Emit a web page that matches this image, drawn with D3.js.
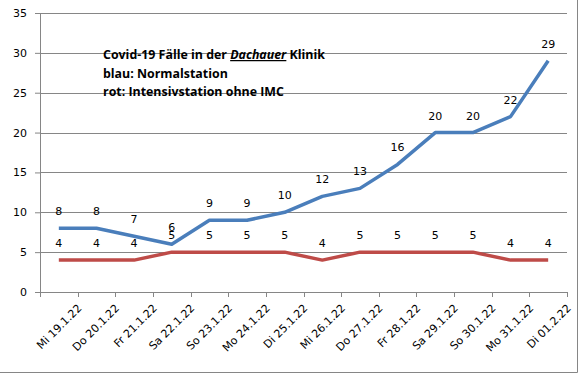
<!DOCTYPE html>
<html>
<head>
<meta charset="utf-8">
<script src="https://cdn.jsdelivr.net/npm/d3@7"></script>
<style>
body { margin: 0; background: #fff; }
svg { display: block; }
</style>
</head>
<body>
<svg width="580" height="375"></svg>
<script>
var days = ["Mi 19.1.22", "Do 20.1.22", "Fr 21.1.22", "Sa 22.1.22", "So 23.1.22", "Mo 24.1.22", "Di 25.1.22",
	"Mi 26.1.22", "Do 27.1.22", "Fr 28.1.22", "Sa 29.1.22", "So 30.1.22", "Mo 31.1.22", "Di 01.2.22"];
var normal = [8, 8, 7, 6, 9, 9, 10, 12, 13, 16, 20, 20, 22, 29]; // blau
var intensiv = [4, 4, 4, 5, 5, 5, 5, 4, 5, 5, 5, 5, 4, 4]; // rot
var yTicks = [0, 5, 10, 15, 20, 25, 30, 35];
var titleLines = ["blau: Normalstation", "rot: Intensivstation ohne IMC"];

var svg = d3.select("svg"),
	width = +svg.attr("width"),
	height = +svg.attr("height");

var plotLeft = 40, plotRight = 567, plotTop = 13, plotBottom = 292; // "top" is taken by window.top
var font = "DejaVu Sans";

var x = d3.scaleBand().domain(days).range([plotLeft, plotRight]);
var y = d3.scaleLinear().domain([0, 35]).range([plotBottom, plotTop]);

// outer frame (only right and bottom edges show)
svg.append("path")
	.attr("d", "M" + (width - 2.5) + ",0V" + (height - 2.5) + "H0")
	.attr("fill", "none")
	.attr("stroke", "#868686");

// gridlines
svg.append("g").selectAll("line")
	.data(yTicks.slice(1))
	.enter().append("line")
	.attr("x1", plotLeft).attr("x2", plotRight)
	.attr("y1", function(d) { return Math.round(y(d)) + 0.5; })
	.attr("y2", function(d) { return Math.round(y(d)) + 0.5; })
	.attr("stroke", "#868686");

// y axis
var yAxis = svg.append("g")
	.attr("transform", "translate(" + plotLeft + ",0)")
	.call(d3.axisLeft(y).tickValues(yTicks).tickSize(5).tickPadding(8));
yAxis.select(".domain").attr("stroke", "#868686");
yAxis.selectAll(".tick line").attr("stroke", "#868686");
yAxis.selectAll(".tick text").attr("font-family", font).attr("font-size", 11).attr("fill", "#000");

// x axis, ticks between categories
var xAxis = svg.append("g")
	.attr("transform", "translate(0," + plotBottom + ")")
	.call(d3.axisBottom(x).tickSize(0).tickPadding(0));
xAxis.select(".domain").attr("stroke", "#868686");
xAxis.selectAll(".tick text")
	.attr("font-family", font).attr("font-size", 11).attr("fill", "#000")
	.attr("text-anchor", "end")
	.attr("transform", "translate(" + (x.bandwidth() / 2 + 2) + ",14) rotate(-45)")
	.attr("dy", "0.35em");

svg.append("g").selectAll("line")
	.data(days.concat([null]))
	.enter().append("line")
	.attr("x1", function(d, i) { return Math.round(plotLeft + i * x.step()) + 0.5; })
	.attr("x2", function(d, i) { return Math.round(plotLeft + i * x.step()) + 0.5; })
	.attr("y1", plotBottom).attr("y2", plotBottom + 5)
	.attr("stroke", "#868686");

// series lines
var line = d3.line()
	.x(function(d, i) { return x(days[i]) + x.bandwidth() / 2; })
	.y(function(d) { return y(d); });

var series = [
	{ values: intensiv, color: "#be4b48" },
	{ values: normal, color: "#4a7ebb" }
];

series.forEach(function(s) {
	svg.append("path")
		.datum(s.values)
		.attr("d", line)
		.attr("fill", "none")
		.attr("stroke", s.color)
		.attr("stroke-width", 3.5)
		.attr("stroke-linejoin", "round");

	svg.append("g").selectAll("text")
		.data(s.values)
		.enter().append("text")
		.attr("x", function(d, i) { return x(days[i]) + x.bandwidth() / 2; })
		.attr("y", function(d) { return y(d) - 13; })
		.attr("text-anchor", "middle")
		.attr("font-family", font)
		.attr("font-size", 11)
		.text(function(d) { return d; });
});

// title text block
var title = svg.append("text")
	.attr("x", 103)
	.attr("y", 59)
	.attr("font-family", "Open Sans")
	.attr("font-weight", "bold")
	.attr("font-size", 12.4)
	.attr("fill", "#000");
title.append("tspan").text("Covid-19 Fälle in der ");
title.append("tspan").attr("font-style", "italic").attr("text-decoration", "underline").text("Dachauer");
title.append("tspan").text(" Klinik");

svg.append("g").selectAll("text")
	.data(titleLines)
	.enter().append("text")
	.attr("x", 103)
	.attr("y", function(d, i) { return 59 + (i + 1) * 18.5; })
	.attr("font-family", "Open Sans")
	.attr("font-weight", "bold")
	.attr("font-size", 12.4)
	.text(function(d) { return d; });
</script>
</body>
</html>
